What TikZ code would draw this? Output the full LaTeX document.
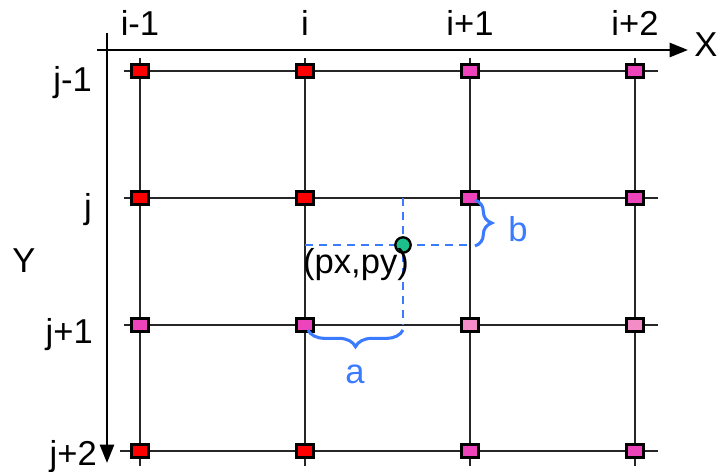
\documentclass[tikz,border=0pt]{standalone}
\usepackage{fontspec}
\setmainfont{Liberation Sans}
\usepackage{xcolor}
\usetikzlibrary{arrows.meta, decorations.pathreplacing}
\definecolor{mred}{HTML}{FF0000}
\definecolor{mpink}{HTML}{EE44BB}
\definecolor{mlight}{HTML}{F48CC8}
\definecolor{dotgreen}{HTML}{1DBF8A}
\definecolor{lblue}{HTML}{3A7BFF}

\begin{document}
\begin{tikzpicture}[
  x=0.03cm, y=-0.03cm,
  gridln/.style={draw=black!85, line width=1.2pt},
  axis/.style={line width=2.2pt, -{Triangle[length=0.55cm, width=0.42cm]}},
  gridpt/.style={rectangle, draw, line width=2pt, minimum width=0.5cm, minimum height=0.4cm, inner sep=0pt},
  lbl/.style={font=\fontsize{29.5}{32}\selectfont, inner sep=0pt},
  dashln/.style={draw=lblue, dash pattern=on 0.24cm off 0.18cm, line width=1.4pt},
  brc/.style={draw=lblue, line width=2.6pt, decorate, decoration={brace, amplitude=0.5cm}}
]
\useasboundingbox (0,0) rectangle (717,472);
% axes
\coordinate (xs) at (97,50);
\coordinate (xe) at (688,50);
\coordinate (ys) at (107,33);
\coordinate (ye) at (107,463);
\draw[axis] (xs) -- (xe);
\draw[axis] (ys) -- (ye);
\node[lbl, anchor=base] (xl) at (706,56) {X};
\node[lbl, anchor=base] (yl) at (24,272) {Y};
% grid lines
\draw[gridln] (124,71) -- (658,71);
\draw[gridln] (124,198) -- (658,198);
\draw[gridln] (124,325) -- (658,325);
\draw[gridln] (120,451) -- (658,451);
\draw[gridln] (140,58) -- (140,466);
\draw[gridln] (305,58) -- (305,466);
\draw[gridln] (470,58) -- (470,466);
\draw[gridln] (635,58) -- (635,466);
% dashed projections of the sample point
\coordinate (p) at (403,245);
\coordinate (ph0) at (305,245);
\coordinate (ph1) at (470,245);
\coordinate (pv0) at (403,198);
\coordinate (pv1) at (403,325);
\draw[dashln] (ph0) -- (ph1);
\draw[dashln] (pv0) -- (pv1);
% grid points
\node[gridpt, fill=mred] (m00) at (140,71) {};
\node[gridpt, fill=mred] (m10) at (305,71) {};
\node[gridpt, fill=mpink] (m20) at (470,71) {};
\node[gridpt, fill=mpink] (m30) at (635,71) {};
\node[gridpt, fill=mred] (m01) at (140,198) {};
\node[gridpt, fill=mred] (m11) at (305,198) {};
\node[gridpt, fill=mpink] (m21) at (470,198) {};
\node[gridpt, fill=mpink] (m31) at (635,198) {};
\node[gridpt, fill=mpink] (m02) at (140,325) {};
\node[gridpt, fill=mpink] (m12) at (305,325) {};
\node[gridpt, fill=mlight] (m22) at (470,325) {};
\node[gridpt, fill=mlight] (m32) at (635,325) {};
\node[gridpt, fill=mred] (m03) at (140,451) {};
\node[gridpt, fill=mred] (m13) at (305,451) {};
\node[gridpt, fill=mpink] (m23) at (470,451) {};
\node[gridpt, fill=mpink] (m33) at (635,451) {};
% sample point
\node[circle, draw, line width=2pt, fill=dotgreen, minimum size=0.46cm, inner sep=0pt] (pt) at (p) {};
\node[lbl, anchor=base] (ptl) at (356,273) {(px,py)};
% index labels
\node[lbl, anchor=base] (c0) at (140,35) {i-1};
\node[lbl, anchor=base] (c1) at (305,35) {i};
\node[lbl, anchor=base] (c2) at (470,35) {i+1};
\node[lbl, anchor=base] (c3) at (635,35) {i+2};
\node[lbl, anchor=base east] (r0) at (92,91) {j-1};
\node[lbl, anchor=base east] (r1) at (92,218) {j};
\node[lbl, anchor=base east] (r2) at (93,343) {j+1};
\node[lbl, anchor=base east] (r3) at (97,465) {j+2};
% offsets
\coordinate (b0) at (475,200);
\coordinate (b1) at (475,246);
\coordinate (a0) at (403,330);
\coordinate (a1) at (308,330);
\draw[brc] (b0) -- (b1);
\draw[brc] (a0) -- (a1);
\node[lbl, text=lblue, anchor=base] (bl) at (518,241) {b};
\node[lbl, text=lblue, anchor=base] (al) at (355,383) {a};
\end{tikzpicture}
\end{document}
